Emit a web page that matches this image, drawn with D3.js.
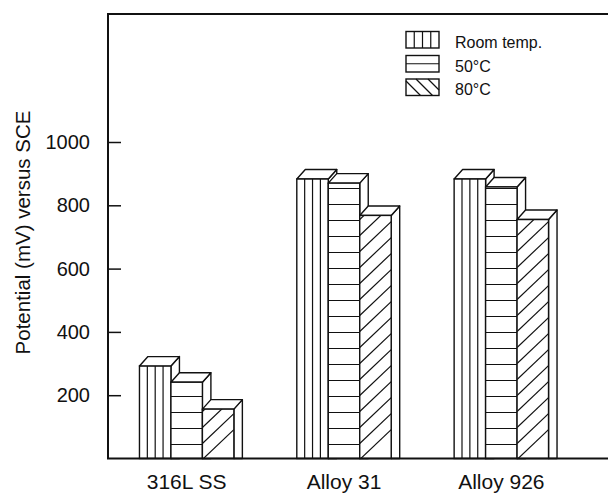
<!DOCTYPE html>
<html>
<head>
<meta charset="utf-8">
<script src="https://cdn.jsdelivr.net/npm/d3@7"></script>
<style>
  html, body { margin: 0; padding: 0; background: #fff; }
  svg { display: block; }
  text { font-family: "Liberation Sans", Arial, Helvetica, sans-serif; fill: #111; }
</style>
</head>
<body>
<svg id="chart" width="608" height="494"></svg>
<script>
// ---- data ----
const categories = ["316L SS", "Alloy 31", "Alloy 926"];
const seriesNames = ["Room temp.", "50°C", "80°C"];
const roomTemp = [292, 883, 883];
const temp50 = [241, 870, 858];
const temp80 = [156, 768, 755];
const yTickValues = [200, 400, 600, 800, 1000];
const yTitle = "Potential (mV) versus SCE";

const seriesValues = [roomTemp, temp50, temp80];
const hatchKinds = ["vertical", "horizontal", "diagonal"];

// ---- layout ----
const plotLeft = 108, plotRight = 608, plotTop = 14, plotBase = 458.5;
const dx = 8.5, dy = 9.5;
const ink = "#111";

const svg = d3.select("#chart");

const y = d3.scaleLinear().domain([0, 1000]).range([plotBase, 142]);
const x0 = d3.scaleBand().domain(categories).range([plotLeft, 580])
  .paddingInner(0.4).paddingOuter(0.2);
const x1 = d3.scaleBand().domain(seriesNames).range([0, x0.bandwidth()]).padding(0);

const defs = svg.append("defs");

// ---- bars ----
const gBars = svg.append("g").attr("class", "bars");
let clipId = 0;

function hatch(g, kind, x, yt, w, h) {
  const id = "clip" + (clipId++);
  defs.append("clipPath").attr("id", id)
    .append("rect").attr("x", x).attr("y", yt).attr("width", w).attr("height", h);
  const hg = g.append("g").attr("clip-path", `url(#${id})`)
    .attr("stroke", ink).attr("stroke-width", 1.2).attr("fill", "none");
  const segs = [];
  if (kind === "vertical") {
    for (let i = 1; i < 4; i++) segs.push([x + w * i / 4, yt, x + w * i / 4, yt + h]);
  } else if (kind === "horizontal") {
    for (let yy = plotBase - 14; yy > yt + 1; yy -= 16) segs.push([x, yy, x + w, yy]);
  } else {
    const slope = 0.95, gap = 16;
    for (let y0 = plotBase + 1; y0 > yt - w * slope - gap; y0 -= gap) {
      segs.push([x, y0, x + w, y0 - w * slope]);
    }
  }
  hg.selectAll("line").data(segs).join("line")
    .attr("x1", d => d[0]).attr("y1", d => d[1])
    .attr("x2", d => d[2]).attr("y2", d => d[3]);
}

categories.forEach((cat, ci) => {
  seriesNames.forEach((s, si) => {
    const v = seriesValues[si][ci];
    const x = x0(cat) + x1(s);
    const w = x1.bandwidth();
    const yt = y(v);
    const yb = y(0);
    const g = gBars.append("g");
    g.append("polygon")
      .attr("points", [[x + w, yt], [x + w + dx, yt - dy], [x + w + dx, yb], [x + w, yb]].join(" "))
      .attr("fill", "#fff").attr("stroke", ink).attr("stroke-width", 1.4).attr("stroke-linejoin", "round");
    g.append("polygon")
      .attr("points", [[x, yt], [x + dx, yt - dy], [x + w + dx, yt - dy], [x + w, yt]].join(" "))
      .attr("fill", "#fff").attr("stroke", ink).attr("stroke-width", 1.4).attr("stroke-linejoin", "round");
    g.append("rect")
      .attr("x", x).attr("y", yt).attr("width", w).attr("height", yb - yt)
      .attr("fill", "#fff");
    hatch(g, hatchKinds[si], x, yt, w, yb - yt);
    g.append("rect")
      .attr("x", x).attr("y", yt).attr("width", w).attr("height", yb - yt)
      .attr("fill", "none").attr("stroke", ink).attr("stroke-width", 1.4);
  });
});

// ---- frame ----
svg.append("path")
  .attr("d", `M${plotRight},${plotTop}H${plotLeft}V${plotBase}H${plotRight}`)
  .attr("fill", "none").attr("stroke", ink).attr("stroke-width", 2);

// ---- y axis ----
const yAxis = d3.axisLeft(y).tickValues(yTickValues).tickFormat(d3.format("d"))
  .tickSize(-13).tickPadding(18);
const gy = svg.append("g").attr("transform", `translate(${plotLeft},0)`).call(yAxis);
gy.select(".domain").remove();
gy.selectAll(".tick line").attr("stroke", ink).attr("stroke-width", 1.5);
gy.selectAll(".tick text").attr("font-size", 20).attr("fill", ink)
  .style("font-family", '"Liberation Sans", Arial, sans-serif');

svg.append("text")
  .attr("transform", "translate(29.5,232.5) rotate(-90)")
  .attr("text-anchor", "middle")
  .attr("font-size", 20.5)
  .text(yTitle);

// ---- category labels ----
svg.append("g").selectAll("text").data(categories).join("text")
  .attr("x", d => x0(d) + x0.bandwidth() / 2)
  .attr("y", 489)
  .attr("text-anchor", "middle")
  .attr("font-size", 21)
  .text(d => d);

// ---- legend ----
const legendTops = [31.5, 55.5, 79];
const lg = svg.append("g").attr("class", "legend");
seriesNames.forEach((s, i) => {
  const lx = 406, lw = 33, lh = 16.5, ly = legendTops[i];
  const g = lg.append("g");
  g.append("rect").attr("x", lx).attr("y", ly).attr("width", lw).attr("height", lh)
    .attr("fill", "#fff").attr("stroke", ink).attr("stroke-width", 1.4);
  const segs = [];
  if (i === 0) {
    for (let k = 1; k < 4; k++) segs.push([lx + lw * k / 4, ly, lx + lw * k / 4, ly + lh]);
  } else if (i === 1) {
    segs.push([lx, ly + lh / 2, lx + lw, ly + lh / 2]);
  } else {
    segs.push([lx, ly + 2, lx + lh - 2, ly + lh]);
    segs.push([lx + 10, ly, lx + 10 + lh, ly + lh]);
    segs.push([lx + 22, ly, lx + lw, ly + 11]);
  }
  g.selectAll("line").data(segs).join("line")
    .attr("x1", d => d[0]).attr("y1", d => d[1]).attr("x2", d => d[2]).attr("y2", d => d[3])
    .attr("stroke", ink).attr("stroke-width", 1.2);
  g.append("text").attr("x", 455).attr("y", ly + lh - 0.5)
    .attr("font-size", 16).text(s);
});
</script>
</body>
</html>
